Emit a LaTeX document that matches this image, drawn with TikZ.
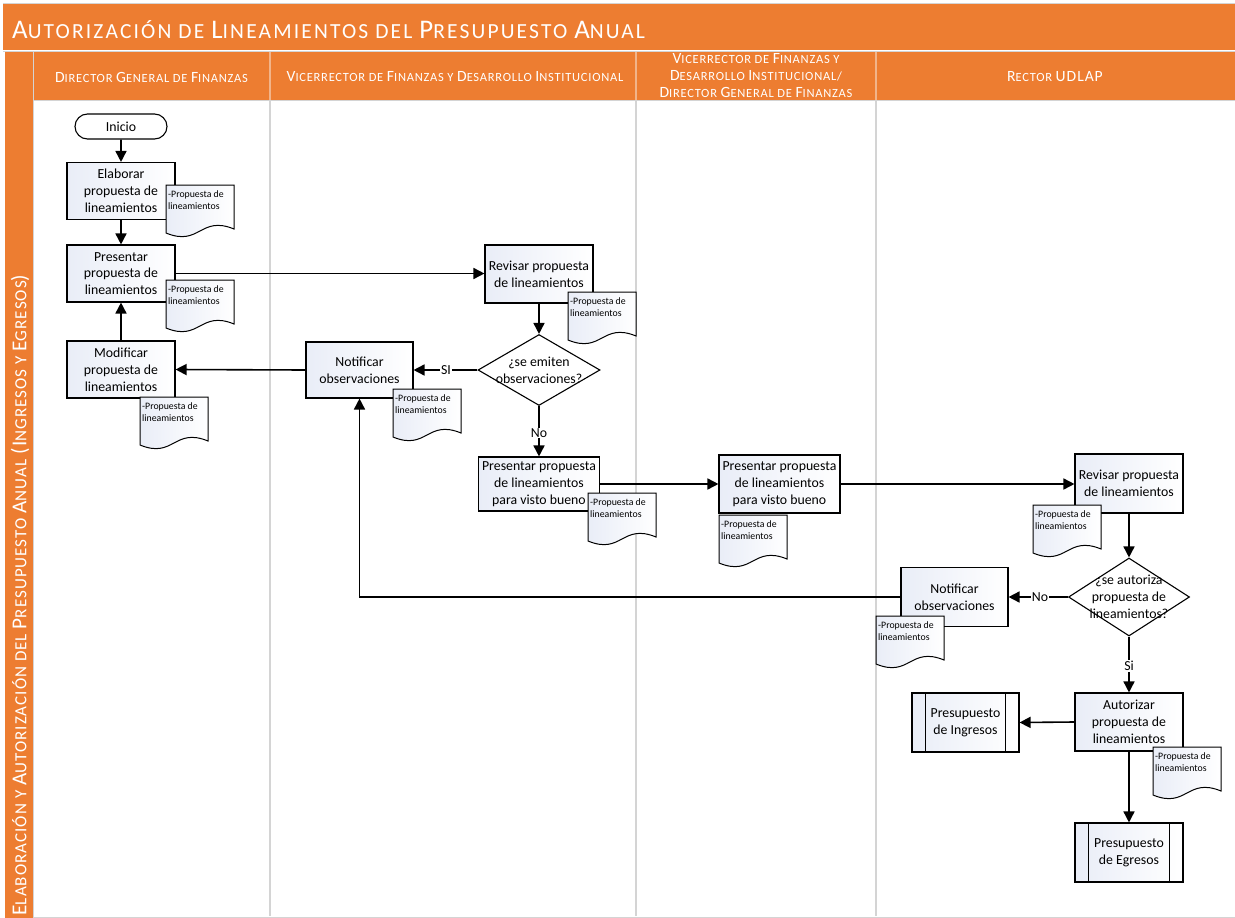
\documentclass[tikz,border=0pt]{standalone}
\usepackage{fontspec}
\setmainfont{Carlito}
\newfontfamily\hfont[LetterSpace=6]{Carlito}
\newfontfamily\tfont[LetterSpace=10]{Carlito}
\usetikzlibrary{shapes.geometric,shapes.misc,arrows.meta}
\definecolor{orng}{HTML}{ED7D31}
\definecolor{lanegray}{HTML}{D4D4D4}
\definecolor{hsep}{HTML}{F2B48A}
\definecolor{boxL}{HTML}{E9EDF7}
\newcommand\BC[1]{\scalebox{1.25}{#1}}
\newcommand\docu[3]{%
  \path[docshape] (#2,#3) -- (#2+68,#3) -- (#2+68,#3+44)
    .. controls (#2+34,#3+30) and (#2+34,#3+62) .. (#2,#3+48) -- cycle;
  \node[doctext] (#1) at (#2+1,#3+4) {-Propuesta de\\lineamientos};}
\begin{document}
\begin{tikzpicture}[x=1pt,y=-1pt,
  proc/.style={draw,line width=1.1pt,left color=boxL,right color=white,
    align=center,inner sep=1pt,font=\fontsize{13.8}{16.8}\selectfont},
  term/.style={draw,line width=1.1pt,fill=white,rounded rectangle,
    minimum width=94,minimum height=25,inner sep=1pt,font=\fontsize{13.8}{16.8}\selectfont},
  decis/.style={draw,line width=1.1pt,fill=white,diamond,inner sep=0pt},
  docshape/.style={draw,line width=1pt,left color=boxL,right color=white},
  doctext/.style={anchor=north west,align=left,inner sep=1pt,
    font=\fontsize{9.8}{12.8}\selectfont},
  lbl/.style={fill=white,inner sep=1pt,font=\fontsize{13.8}{16}\selectfont},
  conn/.style={line width=1.6pt,-{Triangle[length=11pt,width=11pt]}},
  hdr/.style={text=white,align=center,font=\hfont\fontsize{12.5}{17.5}\selectfont},
  lane/.style={draw=lanegray,line width=2.5pt}]
\useasboundingbox (0,0) rectangle (1235,918);
% frame and bands
\fill[white] (0,0) rectangle (1235,918);
\fill[orng] (3,3) rectangle (1235,50);
\draw[lanegray,line width=0.8pt] (3,3) -- (1235,3);
\fill[orng] (5,52) rectangle (33,918);
\fill[orng] (33,52) rectangle (1235,100);
\draw[lanegray,line width=1pt] (3,51) -- (1235,51);
\draw[lanegray,line width=1pt] (33,100) -- (1235,100);
\draw[lanegray,line width=1pt] (33,917) -- (1235,917);
\draw[lanegray,line width=1pt] (33,52) -- (33,918);
\foreach \xx in {270,636,876}{
  \draw[hsep,line width=1.2pt] (\xx,52) -- (\xx,100);
  \draw[lane] (\xx,101) -- (\xx,916);}
% title and headers
\node[anchor=base west,text=white,inner sep=0pt,font=\tfont\fontsize{21.5}{24}\selectfont] (title) at (12,38)
  {\BC{A}UTORIZACIÓN DE \BC{L}INEAMIENTOS DEL \BC{P}RESUPUESTO \BC{A}NUAL};
\node[hdr] (h1) at (151.5,77) {\BC{D}IRECTOR \BC{G}ENERAL DE \BC{F}INANZAS};
\node[hdr] (h2) at (455,77) {\BC{V}ICERRECTOR DE \BC{F}INANZAS Y \BC{D}ESARROLLO \BC{I}NSTITUCIONAL};
\node[hdr,font=\hfont\fontsize{12.5}{17}\selectfont] (h3) at (756,76) {\BC{V}ICERRECTOR DE \BC{F}INANZAS Y\\\BC{D}ESARROLLO \BC{I}NSTITUCIONAL/\\\BC{D}IRECTOR \BC{G}ENERAL DE \BC{F}INANZAS};
\node[hdr] (h4) at (1055,77) {\BC{R}ECTOR \BC{UDLAP}};
\node[text=white,rotate=90,inner sep=0pt,font=\hfont\fontsize{17}{19}\selectfont] (vl) at (20,595)
  {\BC{E}LABORACIÓN Y \BC{A}UTORIZACIÓN DEL \BC{P}RESUPUESTO \BC{A}NUAL \BC{(I}NGRESOS Y \BC{E}GRESOS\BC{)}};
% nodes
\node[term] (ini) at (121,126.5) {Inicio};
\node[proc,minimum width=108,minimum height=57] (el) at (121,191) {Elaborar\\propuesta de\\lineamientos};
\node[proc,minimum width=108,minimum height=57] (p1) at (121,273.5) {Presentar\\propuesta de\\lineamientos};
\node[proc,minimum width=108,minimum height=57] (mod) at (121,369.5) {Modificar\\propuesta de\\lineamientos};
\node[proc,minimum width=108,minimum height=58] (r1) at (539,274) {Revisar propuesta\\de lineamientos};
\node[decis,minimum width=122,minimum height=71,
  label={[align=center,font=\fontsize{13.8}{16.8}\selectfont]center:¿se emiten\\observaciones?}] (d1) at (539,370) {};
\node[proc,minimum width=107,minimum height=56] (n1) at (359.5,370) {Notificar\\observaciones};
\node[proc,minimum width=121,minimum height=54] (p2) at (539,484) {Presentar propuesta\\de lineamientos\\para visto bueno};
\node[proc,minimum width=121,minimum height=58] (p3) at (779.5,484) {Presentar propuesta\\de lineamientos\\para visto bueno};
\node[proc,minimum width=108,minimum height=59] (r2) at (1129,483.5) {Revisar propuesta\\de lineamientos};
\node[decis,minimum width=121,minimum height=78,
  label={[align=center,font=\fontsize{13.8}{16.8}\selectfont]center:¿se autoriza\\propuesta de\\lineamientos?}] (d2) at (1129,597) {};
\node[proc,minimum width=107,minimum height=59] (n2) at (954.5,597) {Notificar\\observaciones};
\node[proc,minimum width=108,minimum height=58] (aut) at (1129,722) {Autorizar\\propuesta de\\lineamientos};
\node[proc,minimum width=107,minimum height=59] (ing) at (965.5,722.5) {Presupuesto\\de Ingresos};
\node[proc,minimum width=108,minimum height=59] (egr) at (1129,852.5) {Presupuesto\\de Egresos};
\foreach \nn in {ing,egr}{
  \draw[line width=1.1pt] ([xshift=14pt]\nn.north west) -- ([xshift=14pt]\nn.south west);
  \draw[line width=1.1pt] ([xshift=-14pt]\nn.north east) -- ([xshift=-14pt]\nn.south east);}
% connectors
\draw[conn] (ini) -- (el);
\draw[conn] (el) -- (p1);
\draw[conn] (mod) -- (p1);
\draw[conn] (p1.east) -- (p1.east -| r1.west);
\draw[conn] (r1) -- (d1);
\draw[conn] (d1.west) -- (n1.east);
\draw[conn] (n1.west) -- (mod.east);
\draw[conn] (d1.south) -- (p2.north);
\draw[conn] (p2.east) -- (p3.west);
\draw[conn] (p3.east) -- (p3.east -| r2.west);
\draw[conn] (r2) -- (d2);
\draw[conn] (d2.west) -- (n2.east);
\draw[conn] (n2.west) -| (n1.south);
\draw[conn] (d2.south) -- (aut.north);
\draw[conn] (aut.west) -- (ing.east);
\draw[conn] (aut.south) -- (egr.north);
% labels
\node[lbl] (lsi) at (446,370) {SI};
\node[lbl] (lno1) at (539,433) {No};
\node[lbl] (lno2) at (1040,597) {No};
\node[lbl] (lsi2) at (1129,666) {Si};
% documents
\docu{doc1}{166}{185}
\docu{doc2}{166}{280}
\docu{doc3}{140}{397}
\docu{doc4}{568}{292}
\docu{doc5}{393}{389}
\docu{doc6}{588}{493}
\docu{doc7}{719}{515}
\docu{doc8}{1033}{505}
\docu{doc9}{876}{616}
\docu{doc10}{1153}{747}
\end{tikzpicture}
\end{document}
